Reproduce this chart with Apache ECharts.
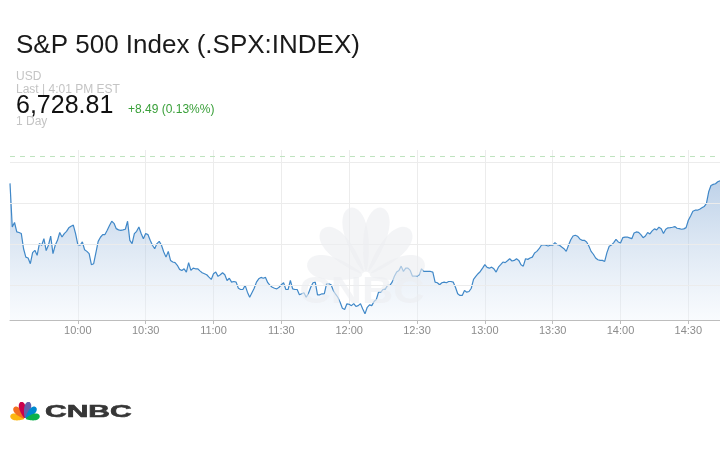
<!DOCTYPE html>
<html>
<head>
<meta charset="utf-8">
<script src="https://cdn.jsdelivr.net/npm/echarts@6/dist/echarts.min.js"></script>
<style>
  html, body { margin: 0; padding: 0; background: #ffffff; }
  #chart { width: 720px; height: 450px; }
</style>
</head>
<body>
<div id="chart"></div>
<script>
// ---- data ----
const titleText = 'S&P 500 Index (.SPX:INDEX)';
const currency = 'USD';
const lastLabel = 'Last | 4:01 PM EST';
const lastPrice = '6,728.81';
const changeText = '+8.49 (0.13%%)';
const rangeLabel = '1 Day';
const startMinute = 9 * 60 + 30; // 9:30, one point per minute
const tickLabels = ['10:00', '10:30', '11:00', '11:30', '12:00', '12:30', '13:00', '13:30', '14:00', '14:30'];
const gridValues = [6720, 6700, 6680, 6660];
const referenceLevel = 6723;
const yMin = 6643;
const yMax = 6726;
const prices = [
  6709.7, 6688.4, 6690.6, 6686.0, 6685.7, 6685.2, 6677.8, 6673.7, 6673.3, 6670.5,
  6675.9, 6677.0, 6674.6, 6680.3, 6679.5, 6682.7, 6676.9, 6679.5, 6684.0, 6675.4,
  6679.5, 6681.9, 6685.7, 6683.5, 6685.2, 6686.3, 6688.0, 6688.8, 6689.3, 6685.2,
  6679.8, 6679.5, 6681.1, 6677.3, 6676.5, 6675.4, 6670.0, 6670.5, 6675.9, 6681.4,
  6683.4, 6684.7, 6684.7, 6686.8, 6689.1, 6691.2, 6690.2, 6687.6, 6687.0, 6686.8,
  6687.0, 6687.3, 6691.2, 6681.9, 6680.3, 6685.2, 6686.3, 6688.4, 6685.2, 6682.7,
  6685.2, 6684.7, 6681.9, 6679.5, 6677.8, 6680.3, 6681.4, 6679.5, 6676.2, 6673.7,
  6676.5, 6672.1, 6671.3, 6671.0, 6669.7, 6667.7, 6667.2, 6668.0, 6666.4, 6671.0,
  6667.2, 6668.3, 6668.0, 6668.0, 6667.0, 6666.1, 6665.6, 6665.1, 6663.9, 6662.8,
  6665.6, 6666.4, 6664.3, 6665.1, 6666.1, 6665.1, 6662.3, 6663.4, 6661.5, 6661.8,
  6661.5, 6658.5, 6657.9, 6657.9, 6659.9, 6656.6, 6654.1, 6656.3, 6658.5, 6661.5,
  6663.1, 6663.8, 6663.4, 6663.8, 6661.2, 6659.9, 6659.0, 6658.5, 6658.2, 6659.0,
  6660.2, 6661.2, 6657.9, 6657.9, 6662.3, 6658.2, 6657.9, 6657.9, 6655.3, 6655.8,
  6656.3, 6654.1, 6656.1, 6659.0, 6661.2, 6661.5, 6655.3, 6655.3, 6655.8, 6655.8,
  6660.7, 6660.7, 6660.2, 6657.4, 6655.6, 6654.1, 6651.7, 6648.7, 6648.1, 6650.9,
  6650.7, 6650.0, 6651.0, 6649.6, 6650.0, 6651.0, 6648.4, 6646.0, 6649.2, 6650.4,
  6650.0, 6652.0, 6653.0, 6656.6, 6656.6, 6657.9, 6658.2, 6659.9, 6659.9, 6661.5,
  6664.4, 6666.4, 6667.2, 6669.3, 6666.7, 6668.3, 6668.3, 6667.2, 6664.4, 6664.4,
  6664.4, 6665.1, 6668.0, 6666.7, 6666.7, 6666.7, 6666.7, 6666.4, 6661.5, 6661.2,
  6660.2, 6661.2, 6661.5, 6661.2, 6661.8, 6661.8, 6661.5, 6659.0, 6655.8, 6655.0,
  6655.0, 6657.4, 6656.6, 6656.9, 6658.5, 6662.8, 6664.3, 6665.6, 6666.7, 6668.3,
  6670.0, 6668.7, 6668.3, 6668.8, 6668.0, 6666.4, 6668.8, 6670.0, 6671.3, 6671.0,
  6671.9, 6672.9, 6671.8, 6672.1, 6672.9, 6672.1, 6670.0, 6669.3, 6672.9, 6672.6,
  6673.3, 6673.7, 6675.7, 6676.5, 6677.8, 6679.5, 6679.8, 6679.5, 6679.1, 6679.5,
  6679.5, 6680.8, 6679.8, 6679.5, 6678.6, 6677.8, 6676.5, 6679.5, 6682.2, 6684.0,
  6684.4, 6683.9, 6682.6, 6681.9, 6681.9, 6681.1, 6679.1, 6676.5, 6675.1, 6673.3,
  6672.4, 6672.1, 6672.1, 6671.6, 6675.9, 6679.0, 6679.6, 6680.8, 6682.4, 6681.1,
  6680.6, 6683.2, 6683.5, 6683.5, 6683.1, 6682.7, 6685.5, 6686.0, 6685.8, 6684.7,
  6683.2, 6684.0, 6685.7, 6685.0, 6686.5, 6687.5, 6687.0, 6688.3, 6687.6, 6685.2,
  6687.3, 6688.0, 6688.1, 6688.3, 6688.6, 6687.8, 6687.6, 6687.3, 6687.5, 6688.1,
  6691.7, 6693.8, 6696.1, 6696.6, 6696.6, 6697.1, 6697.8, 6698.4, 6699.9, 6705.6,
  6708.7, 6709.2, 6709.5, 6710.5, 6711.0
];
const feathers = [
  { angle: -168, len: 60, color: '#fcb711' },
  { angle: -133, len: 64, color: '#f37021' },
  { angle: -103, len: 70, color: '#cc004c' },
  { angle: -77, len: 70, color: '#6460aa' },
  { angle: -47, len: 64, color: '#0089d0' },
  { angle: -12, len: 60, color: '#0db14b' }
];

// ---- build ----
function fmtTime(m) {
  const h = Math.floor(m / 60), mm = m % 60;
  return String(h).padStart(2, '0') + ':' + String(mm).padStart(2, '0');
}
const times = prices.map((_, i) => fmtTime(startMinute + i));
const isTick = (i, v) => tickLabels.indexOf(v) >= 0;
const FONT = '"Liberation Sans", Arial, Helvetica, sans-serif';

// teardrop outline (narrow near the body, round at the tip), rotated to angle a
function featherPoints(cx, cy, a, L, W, r0) {
  const pts = [];
  const n = 28, l = L - r0;
  const ca = Math.cos(a), sa = Math.sin(a);
  const local = [];
  for (let k = 0; k <= n; k++) {
    const u = Math.PI * k / n;
    const x = r0 + l * (1 - Math.cos(u)) / 2;
    const w = W * Math.sin(u) * (0.4 + 0.6 * (1 - Math.cos(u)) / 2) / 0.76;
    local.push([x, w]);
  }
  for (let k = n; k >= 0; k--) local.push([local[k][0], -local[k][1]]);
  local.forEach(([x, y]) => pts.push([cx + x * ca - y * sa, cy + x * sa + y * ca]));
  return pts;
}

function peacock(cx, cy, scale, halfW, colorFn, z) {
  return feathers.map(f => ({
    type: 'polygon',
    shape: { points: featherPoints(cx, cy, f.angle * Math.PI / 180, f.len * scale, halfW * scale, 4 * scale) },
    style: { fill: colorFn(f) },
    silent: true,
    z: z
  }));
}

const chart = echarts.init(document.getElementById('chart'), null, { renderer: 'canvas' });

const graphics = [
  { type: 'text', x: 16, y: 46, z: 10,
    style: { text: titleText, font: '26px ' + FONT, fill: '#1a1a1a', verticalAlign: 'middle' } },
  { type: 'text', x: 16, y: 77, z: 10,
    style: { text: currency, font: '12px ' + FONT, fill: '#c4c4c4', verticalAlign: 'middle' } },
  { type: 'text', x: 16, y: 89.5, z: 10,
    style: { text: lastLabel, font: '12px ' + FONT, fill: '#c4c4c4', verticalAlign: 'middle' } },
  { type: 'text', x: 16, y: 106.5, z: 10,
    style: { text: lastPrice, font: '25px ' + FONT, fill: '#111111', verticalAlign: 'middle' } },
  { type: 'text', x: 128, y: 109.3, z: 10,
    style: { text: changeText, font: '12px ' + FONT, fill: '#3aa03a', verticalAlign: 'middle' } },
  { type: 'text', x: 16, y: 122, z: 10,
    style: { text: rangeLabel, font: '12px ' + FONT, fill: '#c4c4c4', verticalAlign: 'middle' } }
];
// watermark
peacock(366, 276, 1, 12, () => 'rgba(236,238,241,0.62)', 60).forEach(g => graphics.push(g));
graphics.push({ type: 'text', x: 362, y: 293, z: 60, scaleX: 1.2, silent: true,
  style: { text: 'CNBC', font: 'bold 36px ' + FONT, fill: 'rgba(236,238,241,0.62)', align: 'center', verticalAlign: 'middle' } });
// logo
peacock(25, 419, 0.25, 13.5, f => f.color, 10).forEach(g => graphics.push(g));
graphics.push({ type: 'text', x: 45, y: 412.5, z: 10, scaleX: 1.5, scaleY: 0.8,
  style: { text: 'CNBC', font: 'bold 20px ' + FONT, fill: '#363636', stroke: '#363636', lineWidth: 0.7, verticalAlign: 'middle' } });

chart.setOption({
  animation: false,
  backgroundColor: '#ffffff',
  grid: { left: 10, right: 0, top: 150, bottom: 130, containLabel: false },
  xAxis: {
    type: 'category',
    data: times,
    boundaryGap: false,
    axisLine: { lineStyle: { color: '#bdbdbd', width: 1 } },
    axisTick: { show: true, interval: isTick, length: 4, lineStyle: { color: '#bdbdbd' } },
    axisLabel: { interval: isTick, color: '#8c8c8c', fontSize: 11, fontFamily: FONT, margin: 5 },
    splitLine: { show: true, interval: isTick, lineStyle: { color: '#ececec', width: 1 } }
  },
  yAxis: {
    type: 'value',
    min: yMin,
    max: yMax,
    axisLine: { show: false },
    axisTick: { show: false },
    axisLabel: { show: false },
    splitLine: { show: false }
  },
  series: [
    {
      type: 'line',
      data: [],
      z: 1,
      silent: true,
      markLine: {
        silent: true,
        symbol: 'none',
        label: { show: false },
        lineStyle: { color: '#ececec', type: 'solid', width: 1 },
        data: gridValues.map(v => ({ yAxis: v }))
      }
    },
    {
      type: 'line',
      data: prices,
      z: 3,
      showSymbol: false,
      symbol: 'none',
      lineStyle: { color: '#4088c8', width: 1.2 },
      areaStyle: {
        color: new echarts.graphic.LinearGradient(0, 0, 0, 1, [
          { offset: 0, color: 'rgba(118,160,208,0.68)' },
          { offset: 1, color: 'rgba(238,244,251,0.5)' }
        ])
      },
      markLine: {
        silent: true,
        symbol: 'none',
        label: { show: false },
        lineStyle: { color: '#bfe3bf', type: [5, 5], width: 1 },
        data: [{ yAxis: referenceLevel }]
      }
    }
  ],
  graphic: graphics
});
</script>
</body>
</html>
